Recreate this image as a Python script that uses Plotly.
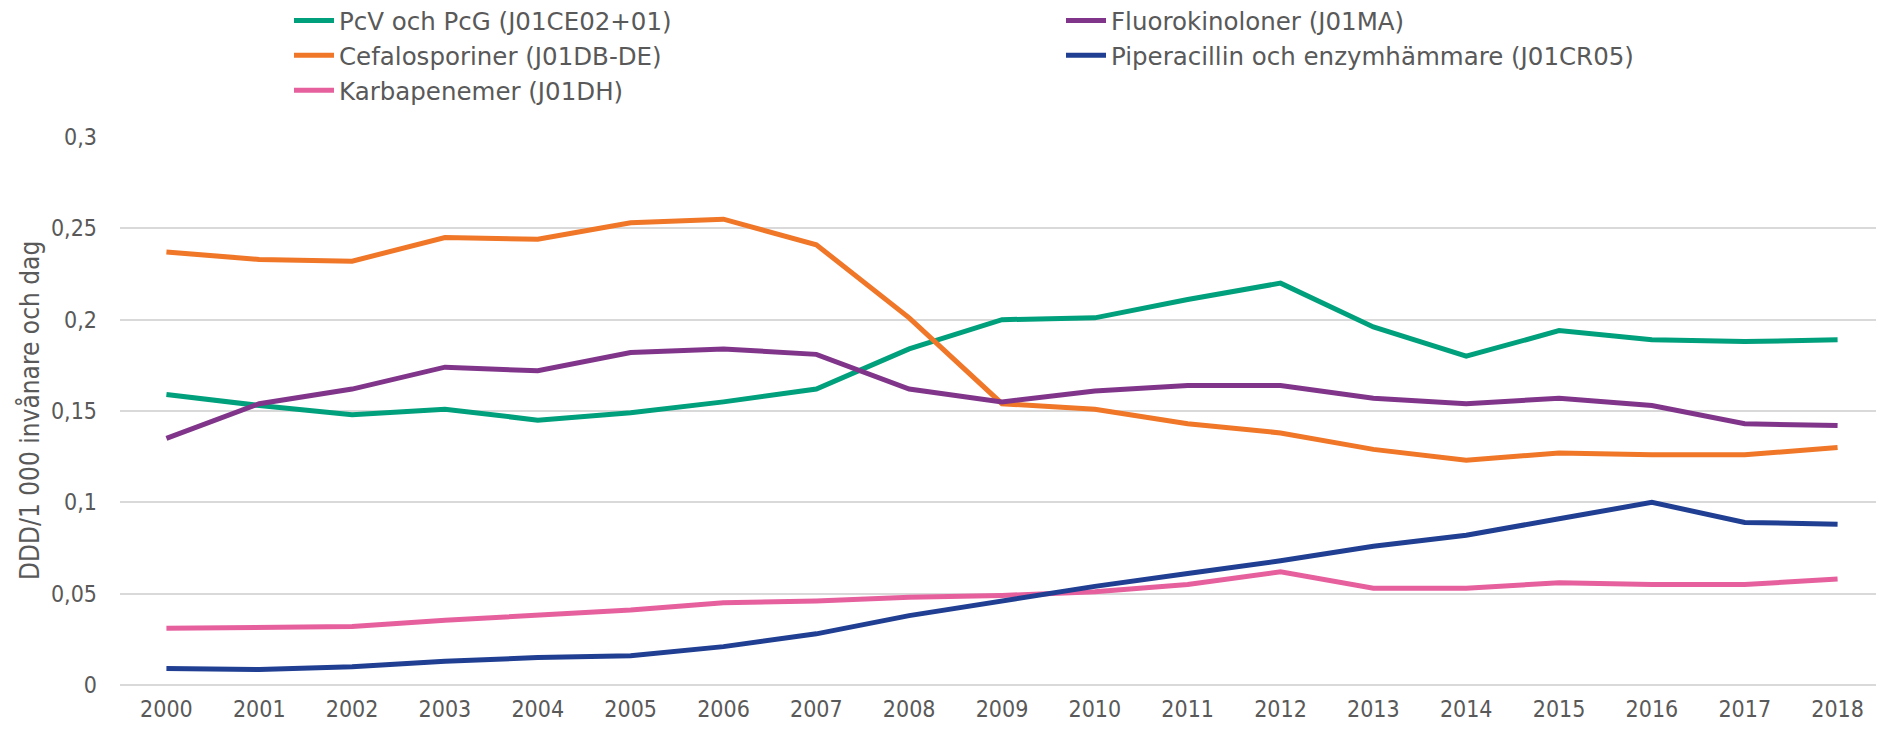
import plotly.graph_objects as go

years = list(range(2000, 2019))

pcv = [0.159, 0.153, 0.148, 0.151, 0.145, 0.149, 0.155, 0.162, 0.184, 0.200,
       0.201, 0.211, 0.220, 0.196, 0.180, 0.194, 0.189, 0.188, 0.189]
cefalo = [0.237, 0.233, 0.232, 0.245, 0.244, 0.253, 0.255, 0.241, 0.201, 0.154,
          0.151, 0.143, 0.138, 0.129, 0.123, 0.127, 0.126, 0.126, 0.130]
karba = [0.031, 0.0315, 0.032, 0.0355, 0.038, 0.041, 0.045, 0.046, 0.048, 0.049,
         0.051, 0.055, 0.062, 0.053, 0.053, 0.056, 0.055, 0.055, 0.058]
fluoro = [0.135, 0.154, 0.162, 0.174, 0.172, 0.182, 0.184, 0.181, 0.162, 0.155,
          0.161, 0.164, 0.164, 0.157, 0.154, 0.157, 0.153, 0.143, 0.142]
pip = [0.009, 0.0085, 0.010, 0.013, 0.015, 0.016, 0.021, 0.028, 0.038, 0.046,
       0.054, 0.061, 0.068, 0.076, 0.082, 0.091, 0.100, 0.089, 0.088]

y_title = "DDD/1 000 invånare och dag"

series = [
    ("PcV och PcG (J01CE02+01)", pcv, "#00A07C", "legend"),
    ("Cefalosporiner (J01DB-DE)", cefalo, "#F07628", "legend"),
    ("Karbapenemer (J01DH)", karba, "#E6609E", "legend"),
    ("Fluorokinoloner (J01MA)", fluoro, "#80358A", "legend2"),
    ("Piperacillin och enzymhämmare (J01CR05)", pip, "#203F93", "legend2"),
]

fig = go.Figure()
for name, vals, color, leg in series:
    fig.add_trace(go.Scatter(
        x=years, y=vals, name=name, mode="lines",
        line=dict(color=color, width=5),
        legend=leg,
    ))

# page has an 8px body margin; figure size/margins compensate for it
W, H = 1876, 723
T, B, L = 129, 46, 112
plot_w = W - L
plot_h = H - T - B
font_main = "DejaVu Sans, Verdana, sans-serif"
font_cond = "DejaVu Sans Condensed, DejaVu Sans, sans-serif"
text_color = "#595959"

leg_top = 1 + (T + 10) / plot_h

fig.update_layout(
    width=W, height=H,
    margin=dict(l=L, r=0, t=T, b=B, autoexpand=False),
    paper_bgcolor="white", plot_bgcolor="white",
    separators=", ",
    font=dict(family=font_main, size=20, color=text_color),
    legend=dict(
        xref="container", x=281 / W, y=leg_top, xanchor="left", yanchor="top",
        orientation="v", font=dict(family=font_main, size=24.5, color=text_color),
        tracegroupgap=0, itemwidth=40, bgcolor="rgba(0,0,0,0)",
    ),
    legend2=dict(
        xref="container", x=1053 / W, y=leg_top, xanchor="left", yanchor="top",
        orientation="v", font=dict(family=font_main, size=24.5, color=text_color),
        tracegroupgap=0, itemwidth=40, bgcolor="rgba(0,0,0,0)",
    ),
    xaxis=dict(
        range=[1999.5, 2018.5], tickmode="linear", tick0=2000, dtick=1,
        showgrid=False, zeroline=False, showline=False, ticks="",
        ticklabelstandoff=8,
        tickfont=dict(family=font_cond, size=23, color=text_color),
    ),
    yaxis=dict(
        range=[0, 0.3], tickmode="array",
        tickvals=[0, 0.05, 0.1, 0.15, 0.2, 0.25, 0.3],
        ticktext=["0", "0,05", "0,1", "0,15", "0,2", "0,25", "0,3"],
        showgrid=True, gridcolor="#D9D9D9", gridwidth=1.5,
        zeroline=True, zerolinecolor="#D9D9D9", zerolinewidth=1.5,
        showline=False, ticks="", ticklabelstandoff=22,
        tickfont=dict(family=font_cond, size=23, color=text_color),
    ),
    annotations=[dict(
        text=y_title, textangle=-90, showarrow=False,
        xref="paper", yref="paper", x=(22 - L) / plot_w, y=0.5,
        xanchor="center", yanchor="middle",
        font=dict(family=font_cond, size=26, color=text_color),
    )],
)

fig.write_html("out.html")
